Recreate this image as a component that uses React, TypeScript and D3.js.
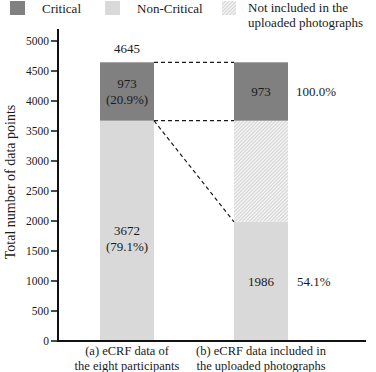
import * as d3 from 'd3';

const categories = ['a', 'b'];
const categoryLines = [
  ['(a)  eCRF data of', 'the eight participants'],
  ['(b) eCRF data included in', 'the uploaded photographs'],
];
const critical = [973, 973];
const nonCritical = [3672, 1986];
const notIncluded = [0, 1686];
const criticalLabels = [['973', '(20.9%)'], ['973']];
const nonCriticalLabels = [['3672', '(79.1%)'], ['1986']];
const sideLabels = ['100.0%', '54.1%'];
const yTicks = d3.range(0, 5001, 500);

const W = 376;
const H = 372;
const font = '"Liberation Serif", "Times New Roman", serif';
const dark = '#808080';
const light = '#d9d9d9';
const ink = '#1a1a1a';

export default function App() {
  const y = d3.scaleLinear().domain([0, 5200]).range([341, 29]);
  const x = d3.scaleBand<string>().domain(categories).range([100, 288]).paddingInner(0.597).paddingOuter(0);
  const bw = x.bandwidth();

  const stacks = categories.map((c, i) => {
    const n0 = 0, n1 = nonCritical[i];
    const h1 = n1 + notIncluded[i];
    const c1 = h1 + critical[i];
    return { c, i, n0, n1, h1, c1 };
  });

  const a = stacks[0];
  const b = stacks[1];
  const aRight = x('a')! + bw;
  const bLeft = x('b')!;

  return (
    <svg width={W} height={H} style={{ position: 'absolute', left: 0, top: 0, background: '#fff' }} fontFamily={font}>
      <defs>
        <pattern id='hatch' patternUnits='userSpaceOnUse' width={2.5} height={2.5} patternTransform='rotate(45)'>
          <rect width={2.5} height={2.5} fill='#f0f0f0' />
          <line x1={0} y1={0} x2={0} y2={2.5} stroke='#c4c4c4' strokeWidth={1.1} />
        </pattern>
      </defs>

      {/* legend */}
      <rect x={10} y={1} width={15} height={14} fill={dark} />
      <text x={42} y={13} fontSize={13} fill={ink}>Critical</text>
      <rect x={105} y={1} width={15} height={14} fill={light} />
      <text x={137} y={13} fontSize={13} fill={ink}>Non-Critical</text>
      <rect x={222} y={1} width={14} height={14} fill='url(#hatch)' />
      <text x={248} y={12} fontSize={13} fill={ink}>Not included  in the</text>
      <text x={248} y={27} fontSize={13} fill={ink}>uploaded photographs</text>

      {/* bars */}
      {stacks.map((s) => (
        <g key={s.c}>
          <rect x={x(s.c)} y={y(s.n1)} width={bw} height={y(s.n0) - y(s.n1)} fill={light} />
          {s.h1 > s.n1 && (
            <rect x={x(s.c)} y={y(s.h1)} width={bw} height={y(s.n1) - y(s.h1)} fill='url(#hatch)' />
          )}
          <rect x={x(s.c)} y={y(s.c1)} width={bw} height={y(s.h1) - y(s.c1)} fill={dark} />
        </g>
      ))}

      {/* connectors */}
      <g stroke={ink} strokeWidth={1.2} strokeDasharray='4,3' fill='none'>
        <line x1={aRight} y1={y(a.c1)} x2={bLeft} y2={y(b.c1)} />
        <line x1={aRight} y1={y(a.h1)} x2={bLeft} y2={y(b.h1)} />
        <line x1={aRight} y1={y(a.n1)} x2={bLeft} y2={y(b.n1)} />
      </g>

      {/* bar labels */}
      <text x={x('a')! + bw / 2} y={y(a.c1) - 9} fontSize={13} textAnchor='middle' fill={ink}>
        {a.c1}
      </text>
      {stacks.map((s) => {
        const cx = x(s.c)! + bw / 2;
        const cm = (y(s.c1) + y(s.h1)) / 2;
        const nm = (y(s.n1) + y(s.n0)) / 2;
        const cl = criticalLabels[s.i];
        const nl = nonCriticalLabels[s.i];
        return (
          <g key={'l' + s.c} fontSize={13} textAnchor='middle' fill={ink}>
            {cl.map((t, k) => (
              <text key={k} x={cx} y={cm + 5 + (k - (cl.length - 1) / 2) * 16}>{t}</text>
            ))}
            {nl.map((t, k) => (
              <text key={k} x={cx} y={nm + 5 + (k - (nl.length - 1) / 2) * 16 + (s.i === 0 ? 7 : 0)}>{t}</text>
            ))}
          </g>
        );
      })}
      <text x={x('b')! + bw + 8} y={(y(b.c1) + y(b.h1)) / 2 + 5} fontSize={13} fill={ink}>{sideLabels[0]}</text>
      <text x={x('b')! + bw + 9} y={(y(b.n1) + y(b.n0)) / 2 + 5} fontSize={13} fill={ink}>{sideLabels[1]}</text>

      {/* y axis */}
      <line x1={58} y1={y(5200)} x2={58} y2={y(0)} stroke='#111' strokeWidth={2} />
      {yTicks.map((t) => (
        <g key={t}>
          <line x1={51} x2={58} y1={y(t)} y2={y(t)} stroke='#111' strokeWidth={1.5} />
          <text x={49} y={y(t) + 4} fontSize={11.5} textAnchor='end' fill={ink}>{t}</text>
        </g>
      ))}
      <text
        transform='translate(15,182) rotate(-90)'
        fontSize={14}
        textAnchor='middle'
        fill={ink}
      >
        Total number of data points
      </text>

      {/* x axis */}
      <line x1={57} y1={y(0)} x2={366} y2={y(0)} stroke='#111' strokeWidth={2} />
      {categories.map((c, i) => (
        <g key={'x' + c} fontSize={12.5} textAnchor='middle' fill={ink}>
          <text x={x(c)! + bw / 2} y={355}>{categoryLines[i][0]}</text>
          <text x={x(c)! + bw / 2} y={370}>{categoryLines[i][1]}</text>
        </g>
      ))}
    </svg>
  );
}
